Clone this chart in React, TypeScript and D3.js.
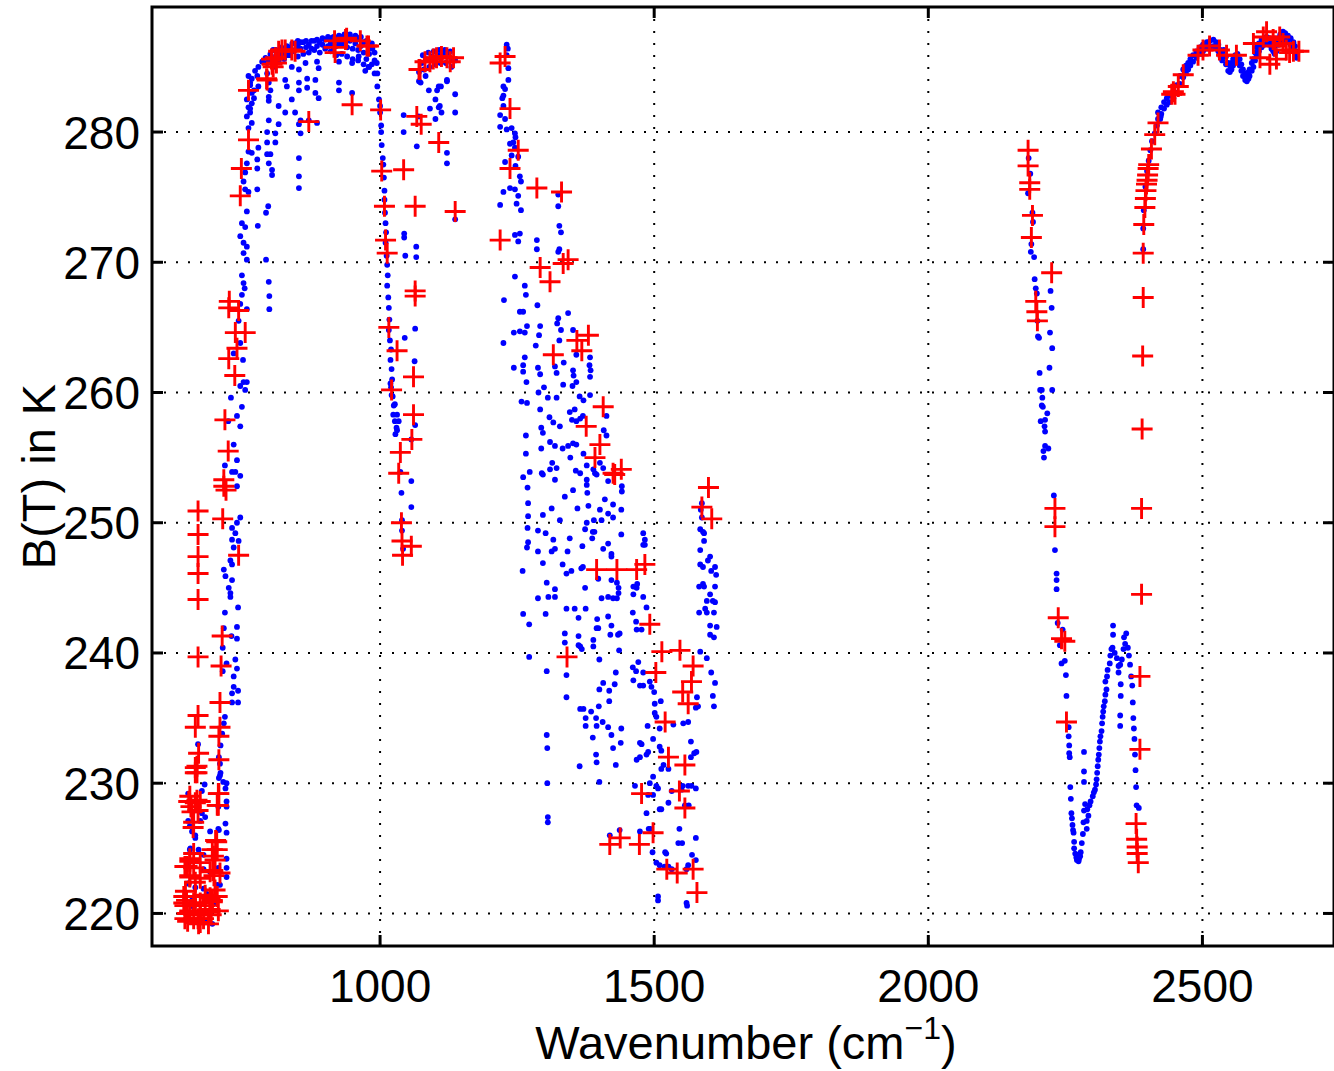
import React, { useEffect, useRef } from "react";
import * as d3 from "d3";

type Pt = [number, number];

// blue dots: all channels, [wavenumber cm-1, brightness temperature K]
const dotsCO2: Pt[] = [
  [745,253.6],[736,253.9],[739,252.8],[745,250.4],[739,250.0],[730,249.6],[736,249.2],[730,248.7],[742,248.6],[733,248.1],
  [727,247.1],[730,246.8],[715,246.4],[718,245.9],[730,245.6],[724,245.0],[727,244.6],[727,244.3],[741,243.5],[717,243.1],
  [739,242.0],[715,241.9],[729,241.3],[739,241.1],[713,240.4],[736,239.5],[720,239.2],[739,238.8],[733,238.2],[713,238.6],
  [733,237.4],[741,237.1],[730,236.9],[741,236.2],[730,236.2],[717,235.1],[715,234.6],[712,233.8],[709,232.9],[706,232.0],
  [668,233.0],[709,230.8],[706,230.4],[720,230.0],[718,229.6],[680,229.9],[675,229.4],[720,228.6],[720,228.2],[675,227.7],
  [672,227.1],[718,226.9],[720,226.2],[663,226.0],[690,226.3],[706,226.4],[663,225.8],[654,225.0],[669,224.9],[678,224.5],
  [720,224.2],[651,223.9],[720,223.5],[678,223.4],[720,222.8],[651,222.3],[678,221.9],[657,221.0],[690,220.0],[675,219.5],
  [694,219.2],[708,231.5],[708,230.6],[714,230.1],[650,229.2],[705,228.2],[650,227.1],[681,227.4],[653,226.7],[657,226.3],
  [705,226.5],[653,224.9],[705,223.5],[690,223.2],[650,222.3],[663,222.0],[703,222.2],[708,222.2],[681,219.4],[666,224.0],
  [684,221.5],[660,220.5],[699,220.8],
  [745,263.8],[733,263.0],[751,260.8],[757,260.8],[754,260.2],[745,260.5],[728,259.6],[748,258.9],[739,258.2],[745,257.4],
  [723,257.8],[733,256.0],[739,254.8],[717,254.4],[730,253.9],[742,265.5],[745,266.8],[748,269.0],[750,262.5],
  [760,280.3],[766,280.7],[763,281.5],[757,281.2],[766,282.2],[763,281.8],[770,282.6],[766,283.0],[763,283.6],[766,284.1],
  [772,284.7],[778,285.0],[785,285.4],[791,285.7],[794,285.3],[797,285.6],[776,284.3],[778,283.5],[770,283.2],[794,284.5],
  [797,283.8],[800,283.2],[797,282.7],[797,282.4],[760,284.3],[763,283.8],[757,282.5],[760,281.9],
  [797,280.9],[794,280.0],[794,279.2],[800,278.3],[794,278.3],[797,277.6],[778,278.8],[776,277.9],[766,278.4],[760,278.5],
  [757,277.6],[754,276.9],[751,276.2],[754,275.6],[760,275.4],[776,275.6],[776,277.2],[757,273.9],[748,273.0],[754,272.7],
  [745,272.0],[751,271.5],[757,271.2],[751,270.7],[757,270.2],[777,272.8],[796,274.3],[792,273.8],[792,270.2],[797,268.5],
  [798,267.4],[798,266.4],[751,268.4],[753,268.0],[748,267.5],[757,266.4],
];

const dotsWindow: Pt[] = [
  [815,282.0],[827,281.5],[839,282.5],[845,281.5],[827,284.0],[830,283.5],[852,283.8],[852,283.2],[867,284.1],[867,283.4],
  [882,284.0],[888,284.9],[882,283.0],[888,282.6],[864,285.3],[852,284.8],[839,285.0],[885,285.4],[925,283.8],[925,283.2],
  [949,283.0],[925,285.4],[949,285.3],[961,285.8],[973,284.7],[979,285.0],[870,280.9],[885,280.7],[855,280.9],[855,279.9],
  [852,280.6],[815,280.6],[809,279.9],[809,279.2],[803,277.1],[803,276.7],[852,278.0],[852,276.6],[852,275.7],
  [800,285.5],[800,286.0],[810,285.8],[810,286.3],[820,286.0],[820,286.5],[830,285.9],[830,286.6],[840,286.2],[840,286.8],
  [850,285.8],[850,286.6],[850,287.0],[860,286.0],[860,286.9],[870,286.1],[870,286.7],[880,286.3],[880,287.0],[890,286.1],
  [890,286.9],[900,286.4],[900,287.1],[910,286.2],[910,286.8],[910,287.2],[920,285.9],[920,286.6],[920,287.2],[930,286.0],
  [930,286.7],[930,287.3],[940,285.8],[940,286.5],[940,287.3],[950,285.6],[950,286.4],[950,287.2],[960,285.5],[960,286.3],
  [960,287.2],[970,285.2],[970,286.1],[970,286.9],[980,285.0],[980,286.0],[980,286.7],[990,284.5],[990,285.5],[986,286.4],
  [995,283.5],[995,284.5],[998,282.5],[1000,281.5],[1000,282.0],[1002,280.5],[1002,280.0],
  [805,285.0],[815,285.4],[825,285.6],[835,285.9],[845,286.3],[855,286.4],[865,286.5],[875,286.4],[885,286.6],[895,286.7],
  [905,286.6],[915,286.5],[925,286.9],[935,287.0],[945,287.0],[955,286.8],[965,286.6],[975,285.6],[985,285.2],
  [805,286.3],[815,286.0],[825,286.2],[835,286.5],[845,286.8],[855,286.9],[865,287.0],[875,287.0],[885,287.1],[895,287.2],
  [905,287.3],[915,287.3],[925,287.4],[935,287.5],[945,287.5],[955,287.4],[965,287.3],[975,287.0],[985,286.8],[990,286.1],
  [994,285.3],
];

const dotsOzone: Pt[] = [
  [1003,279.0],[1005,278.0],[1006,277.5],[1007,276.5],[1008,275.5],[1008,274.8],[1009,273.8],[1010,273.0],[1011,272.3],[1010,271.5],
  [1012,270.5],[1013,269.8],[1014,269.0],[1013,268.2],[1015,267.3],[1016,266.5],[1017,265.6],[1016,264.8],[1018,264.0],[1020,263.3],
  [1019,262.5],[1021,261.8],[1022,261.0],[1020,260.4],[1023,259.7],[1025,259.0],[1024,258.3],[1027,257.8],[1030,257.3],[1028,256.8],
  [1019,260.7],[1021,259.8],[1027,259.1],[1031,258.3],[1034,257.8],[1031,257.1],
  [1044,272.2],[1044,271.9],[1046,270.5],[1066,271.2],[1066,270.4],[1067,278.9],[1070,281.2],[1043,281.3],[1043,280.0],[1064,264.9],
  [1045,264.2],[1063,262.4],[1064,257.5],[1057,256.4],[1037,253.9],[1057,253.2],[1039,252.3],[1057,251.2],[1040,250.2],[1040,249.4],
  [1042,248.0],
  [1122,283.9],[1111,283.5],[1109,282.0],[1112,281.5],[1137,282.9],[1137,281.5],[1122,278.4],[1122,277.6],[1074,283.8],[1083,284.3],
  [1089,283.2],[1104,283.2],[1107,283.5],[1101,282.5],[1091,281.8],[1107,281.9],[1101,281.0],[1122,284.0],[1071,283.9],[1071,284.6],
  [1076,285.3],[1085,285.6],[1095,285.8],[1105,285.9],[1115,286.0],[1125,285.9],[1130,285.6],[1080,284.8],[1090,285.0],[1100,285.2],
  [1110,285.3],[1120,285.3],[1130,285.0],[1137,285.5],[1137,273.3],
  [1078,285.9],[1088,286.1],[1098,286.2],[1108,286.3],[1118,286.3],[1128,286.2],
];

const dotsWater: Pt[] = [
  [1231,286.7],[1233,286.4],[1231,285.9],[1234,284.9],[1234,284.0],[1225,283.5],[1228,283.3],[1225,282.8],[1223,282.6],[1225,282.0],
  [1219,281.3],[1228,281.0],[1219,280.4],[1231,280.2],[1240,280.3],[1246,279.9],[1247,279.6],[1243,279.2],[1237,279.1],[1246,278.8],
  [1240,278.2],[1252,278.1],[1228,277.7],[1247,277.4],[1255,276.6],[1257,276.2],[1237,275.7],[1246,275.6],[1225,275.4],[1252,275.1],
  [1219,274.4],[1249,274.5],[1257,274.0],[1246,272.1],[1255,272.2],[1252,271.6],[1286,271.7],[1286,271.0],[1325,270.8],[1327,271.0],
  [1330,272.3],[1327,272.8],[1325,274.3],[1325,275.2],
  [1246,268.9],[1264,268.2],[1266,267.5],[1226,267.1],[1287,266.7],[1255,266.2],[1261,266.2],[1343,266.1],[1325,265.7],[1323,265.3],
  [1268,265.1],[1292,265.1],[1330,264.8],[1244,264.6],[1255,264.7],[1264,264.6],[1290,264.4],[1225,263.8],[1284,263.6],[1327,264.0],
  [1352,264.8],[1358,262.9],[1383,262.7],[1382,262.1],[1384,261.7],[1383,261.2],[1264,262.7],[1261,262.1],[1244,261.9],[1261,261.6],
  [1267,260.8],[1288,261.9],[1292,261.4],[1319,262.0],[1322,261.5],[1335,262.3],[1352,261.7],[1353,261.3],[1358,260.8],[1299,260.4],
  [1289,260.0],[1306,259.6],[1322,259.6],[1334,260.6],[1351,260.5],[1364,259.7],[1371,259.4],[1383,259.8],[1258,259.3],[1268,259.2],
  [1292,258.7],[1309,258.1],[1316,257.7],[1328,257.4],[1346,258.5],[1355,258.7],[1350,257.9],[1358,257.8],[1365,258.0],[1370,258.2],
  [1294,257.3],[1297,256.9],[1266,256.7],[1294,255.7],[1310,256.2],[1319,255.9],[1333,255.7],[1343,255.9],[1352,256.1],[1358,256.0],
  [1347,255.0],[1371,255.3],[1413,256.7],[1408,257.1],[1413,258.2],[1266,255.3],[1314,254.6],[1322,254.2],[1310,254.1],[1295,253.8],
  [1273,253.9],[1261,253.5],[1357,254.0],[1365,253.8],[1377,254.4],[1389,254.1],[1401,254.6],[1407,254.2],[1377,253.3],[1395,253.7],
  [1269,252.7],[1297,253.7],[1319,253.3],[1392,253.8],[1416,253.2],[1441,252.8],[1441,252.4],[1337,252.0],[1352,252.5],[1377,252.9],
  [1378,252.3],[1410,251.8],[1270,251.5],[1313,251.1],[1360,251.1],[1380,251.3],[1401,251.0],[1425,251.4],[1440,251.0],[1270,250.5],
  [1297,250.6],[1328,250.2],[1377,250.0],[1390,250.2],[1404,250.2],[1416,250.7],[1425,250.4],[1269,249.6],[1288,249.4],[1302,249.2],
  [1374,249.5],[1388,249.3],[1391,249.3],[1440,249.1],[1480,249.2],[1483,248.7],[1316,248.7],[1346,248.8],[1387,248.8],[1480,248.3],
  [1270,248.5],[1268,248.1],[1319,248.0],[1313,247.8],[1342,247.8],[1369,248.2],[1407,248.0],[1416,248.4],[1422,247.6],[1422,247.4],
  [1288,247.8],[1297,246.9],[1260,246.3],[1333,246.8],[1340,246.1],[1349,246.3],[1367,246.5],[1370,246.6],[1398,245.7],[1422,245.6],
  [1432,245.4],[1435,245.0],[1435,244.6],[1432,244.2],[1425,244.2],[1416,244.3],[1304,245.4],[1319,244.9],[1319,244.3],[1307,244.3],
  [1288,244.2],[1340,243.4],[1355,243.4],[1375,243.4],[1374,245.0],[1404,244.2],[1261,243.0],[1272,242.2],[1302,243.0],[1362,242.7],
  [1396,242.6],[1416,242.8],[1395,241.9],[1398,241.9],[1422,242.1],[1437,241.5],[1434,241.4],[1420,241.4],[1337,241.5],[1337,240.8],
  [1362,241.3],[1362,240.6],[1365,240.5],[1368,240.3],[1389,241.0],[1389,240.5],[1436,240.2],[1400,239.5],[1272,239.7],[1304,238.6],
  [1340,238.3],[1340,236.6],[1430,238.5],[1428,237.6],[1407,237.7],[1400,237.2],[1418,237.1],[1418,236.3],[1399,235.9],[1365,235.7],
  [1371,235.7],[1385,235.5],[1394,235.0],[1375,235.0],[1375,234.4],[1395,234.4],[1406,234.7],[1416,234.3],[1422,233.7],[1440,234.2],
  [1388,233.5],[1425,232.7],[1439,233.1],[1394,232.2],[1395,231.6],[1430,231.4],[1364,231.3],[1400,230.1],[1304,233.7],[1305,232.7],
  [1305,230.0],[1306,227.4],[1306,227.0],
  [1483,248.3],[1462,245.1],[1462,244.5],[1468,245.0],[1469,245.3],[1480,244.3],[1461,243.1],[1467,242.4],[1468,241.8],[1477,241.8],
  [1486,243.5],[1461,238.9],[1471,239.3],[1467,238.6],[1480,238.5],[1462,237.9],[1474,237.5],[1480,237.5],[1492,237.8],[1495,237.4],
  [1500,237.0],[1512,236.3],[1501,236.1],[1501,235.4],[1504,235.1],[1510,234.2],[1488,234.4],[1498,233.4],[1474,233.1],[1477,233.0],
  [1468,231.8],[1474,232.0],[1486,232.2],[1489,232.4],[1510,232.8],[1513,232.5],[1517,231.4],[1513,231.1],[1526,231.1],[1498,230.5],
  [1492,230.0],[1507,229.6],[1504,229.8],[1465,229.8],[1489,229.1],[1498,229.1],[1510,228.0],[1513,228.0],[1486,227.7],[1526,228.5],
  [1532,229.4],[1550,229.5],[1562,229.8],[1568,229.8],[1576,229.6],[1552,229.8],[1556,228.3],[1563,228.3],[1546,226.5],[1544,225.4],
  [1551,225.4],[1576,225.8],[1474,226.3],[1493,226.5],[1419,226.0],[1437,226.4],[1490,226.5],[1497,224.7],[1520,224.7],[1522,224.6],
  [1504,223.9],[1510,223.7],[1519,223.6],[1526,223.6],[1532,223.4],[1562,223.7],[1569,224.5],[1576,224.1],[1559,223.4],[1507,221.3],
  [1507,221.0],[1559,220.8],[1560,220.6],
  [1587,251.5],[1585,251.0],[1587,250.4],[1584,249.5],[1589,249.3],[1591,249.2],[1591,248.6],[1584,247.9],[1602,247.4],[1584,246.8],
  [1589,246.6],[1598,247.1],[1611,246.6],[1604,246.3],[1613,246.0],[1582,245.1],[1589,245.3],[1591,245.1],[1611,245.1],[1602,244.5],
  [1596,244.0],[1593,243.4],[1607,244.0],[1611,243.9],[1582,243.1],[1596,243.1],[1609,243.1],[1602,242.1],[1614,242.0],[1602,241.4],
  [1609,241.2],[1584,240.1],[1596,239.6],[1604,238.5],[1611,237.7],[1607,236.7],[1609,235.9],[1578,236.6],[1580,235.9],[1562,234.7],
  [1576,235.8],[1573,232.3],[1567,232.0],[1577,232.4],[1567,233.2],[1553,234.6],[1535,234.5],
];

const dotsShortwave: Pt[] = [
  [2183,278.0],[2186,276.8],[2182,275.3],[2190,273.8],[2191,273.1],[2188,271.4],[2187,270.8],[2193,270.4],[2194,268.7],[2196,268.0],
  [2198,267.6],[2199,265.5],[2202,264.2],[2200,264.3],[2203,261.5],[2204,260.2],[2207,260.2],[2208,259.6],[2207,259.0],[2209,258.9],
  [2205,257.8],[2213,257.9],[2212,257.4],[2213,257.0],[2217,258.4],[2213,255.9],[2219,255.7],[2210,255.5],[2211,255.0],[2223,267.8],
  [2225,266.5],[2222,264.6],[2226,263.4],[2221,261.9],[2226,260.2],
  [2229,252.1],[2231,247.9],[2234,246.1],[2234,245.6],[2234,244.9],[2236,242.3],[2245,241.8],[2240,240.6],[2243,239.2],[2249,239.4],
  [2251,238.3],[2252,236.7],[2256,234.3],[2256,233.6],[2257,232.9],[2257,232.3],[2258,232.0],[2259,229.7],[2260,228.8],[2261,227.7],
  [2262,227.3],[2263,226.8],[2264,226.4],[2265,226.2],[2266,225.5],[2266,225.0],[2268,224.6],[2270,224.3],[2274,224.0],[2277,224.4],
  [2278,224.7],[2280,225.4],[2282,226.1],[2283,227.0],[2284,227.9],[2286,228.4],[2284,232.4],[2284,230.9],[2284,230.1],[2271,224.1],
  [2272,224.5],[2275,224.2],
  [2289,227.1],[2292,227.5],[2289,226.5],[2290,228.0],[2294,228.3],[2296,228.6],[2300,229.0],[2302,229.3],[2304,229.5],[2306,229.9],
  [2307,230.3],[2308,230.8],[2309,231.3],[2310,231.8],[2311,232.2],[2312,232.7],[2313,233.2],[2314,233.6],[2316,234.0],[2317,234.6],
  [2318,235.1],[2319,235.5],[2320,235.9],[2322,236.3],[2323,236.8],[2325,237.2],[2323,237.8],[2326,238.2],[2327,238.7],[2331,239.2],
  [2332,239.8],[2334,240.3],[2336,240.4],[2337,241.4],[2337,242.1],[2340,240.0],[2344,239.6],[2347,239.0],[2350,239.1],[2353,239.5],
  [2356,240.3],[2359,240.7],[2361,241.5],[2357,241.2],[2364,240.4],[2366,239.8],[2368,239.1],[2370,238.2],[2372,237.5],[2373,236.2],
  [2374,235.0],[2375,234.2],[2376,233.4],[2377,232.2],[2378,231.0],[2379,229.7],[2380,228.3],[2384,228.1],[2347,238.5],[2351,237.6],
  [2351,236.7],[2350,235.2],[2350,234.4],
  [2392,271.0],[2392,272.6],[2393,274.0],[2396,275.8],[2399,277.0],[2402,277.8],[2405,278.6],[2408,279.3],[2413,279.9],[2417,280.5],
  [2423,281.0],[2424,281.2],
  [2419,281.0],[2419,281.5],[2425,281.4],[2425,281.9],[2430,281.8],[2430,282.3],[2435,282.1],[2435,282.6],[2440,282.3],[2440,282.8],
  [2447,282.6],[2447,283.1],[2453,283.0],[2453,283.6],[2459,283.7],[2459,284.3],[2465,284.2],[2465,284.8],[2470,284.5],[2470,285.1],
  [2474,284.8],[2474,285.3],[2478,285.1],[2478,285.6],[2483,285.4],[2483,285.9],[2489,285.7],[2489,286.2],[2495,286.0],[2495,286.5],
  [2501,286.2],[2501,286.7],[2508,286.4],[2508,286.9],[2514,286.5],[2514,287.0],[2520,286.6],[2520,287.1],[2525,286.5],[2525,286.9],
  [2529,286.2],[2529,286.7],[2533,285.8],[2533,286.3],[2536,285.5],[2536,286.1],[2539,285.8],[2539,286.3],[2543,285.2],[2543,285.8],
  [2547,284.7],[2547,285.3],[2550,284.6],[2550,285.1],[2553,284.8],[2553,285.3],[2556,285.1],[2556,285.6],[2560,285.4],[2560,285.9],
  [2564,285.5],[2564,286.0],[2568,285.1],[2568,285.6],[2571,284.7],[2571,285.2],[2574,284.3],[2574,284.8],[2578,284.0],[2578,284.5],
  [2581,283.9],[2581,284.4],[2584,284.1],[2584,284.6],[2586,284.3],[2586,284.8],[2590,284.7],[2590,285.3],[2593,285.0],[2593,285.6],
  [2596,285.5],[2596,286.1],[2599,285.9],[2599,286.5],[2603,286.2],[2603,286.8],[2608,286.5],[2608,287.1],[2612,286.7],[2612,287.2],
  [2617,286.8],[2617,287.3],[2622,286.7],[2622,287.2],[2626,286.4],[2626,286.9],[2629,286.2],[2629,286.7],[2632,286.0],[2632,286.6],
  [2635,286.2],[2635,286.8],[2638,286.7],[2638,287.2],[2642,287.0],[2642,287.5],[2647,287.2],[2647,287.7],[2651,287.1],[2651,287.6],
  [2656,286.9],[2656,287.4],[2661,286.7],[2661,287.2],[2666,286.4],[2666,286.9],[2669,286.0],[2669,286.6],[2672,285.7],[2672,286.2],
];

// red pluses: selected channels
const plusCO2: Pt[] = [
  [715,252.8],[719,252.5],[668,250.9],[668,249.1],[668,247.4],[668,246.1],[668,244.1],[713,250.3],[742,247.5],[668,239.7],
  [712,241.3],[710,239.0],[708,236.2],[668,235.2],[663,234.3],[708,234.3],[706,233.6],[669,232.3],[663,231.2],[663,230.8],
  [706,231.8],[706,229.2],[703,228.3],[651,228.6],[663,228.5],[657,227.8],[659,226.6],[700,225.6],[703,224.9],[699,224.1],
  [695,223.3],[697,222.9],[653,224.2],[644,223.6],[653,222.9],[663,222.4],[642,221.3],[644,220.6],[663,220.6],[681,220.6],
  [653,220.1],[672,219.9],[690,220.1],[644,219.6],[672,219.3],[694,221.0],[699,221.8],[681,221.4],[649,219.4],[668,219.6],
  [666,231.3],[666,230.8],[705,229.2],[705,228.3],[653,229.0],[666,228.7],[672,228.6],[655,228.2],[668,227.9],[660,227.0],
  [702,225.5],[694,224.9],[696,224.4],[660,224.6],[653,224.0],[672,223.9],[660,223.5],[690,223.2],[708,223.1],[653,222.8],
  [672,222.7],[663,221.3],[690,221.2],[703,221.3],[647,221.0],[660,220.8],[672,220.8],[694,220.9],[653,220.2],[672,220.1],
  [690,220.3],[705,220.2],[660,219.6],[678,219.6],[669,219.2],[692,219.9],[687,219.2],[648,223.6],[645,221.7],[642,220.8],
  [648,220.0],
  [725,267.0],[724,266.5],[742,266.3],[736,264.6],[754,264.6],[739,263.4],[724,262.6],[735,261.3],[717,257.9],[723,255.5],
  [715,253.3],[760,279.4],[747,277.2],[745,275.1],[760,283.2],[794,284.0],[803,285.2],[809,285.7],[815,286.2],[839,286.3],
  [827,286.3],[793,284.1],[805,285.0],[802,285.6],[811,285.3],[821,286.3],[845,286.2],
];

const plusWindow: Pt[] = [
  [870,280.8],[916,286.5],[937,287.1],[964,287.0],[979,286.6],[918,286.1],[949,282.1],[917,287.0],[939,287.2],[976,286.6],
];

const plusOzone: Pt[] = [
  [1001,281.7],[1003,277.0],[1043,277.1],[1008,274.3],[1064,274.3],[1010,271.7],[1013,270.7],[1064,267.8],[1064,267.4],[1016,265.0],
  [1031,263.2],[1061,261.2],[1021,260.2],[1061,258.3],[1058,256.4],[1037,255.4],[1034,253.8],[1071,284.8],[1067,281.2],[1075,280.6],
  [1107,279.2],[1137,273.9],[1039,250.0],[1040,248.6],[1057,248.2],[1041,247.5],[1122,285.7],[1073,284.8],[1082,285.4],[1091,285.4],
  [1097,285.6],[1103,285.7],[1112,285.8],[1128,285.4],[1134,285.7],
];

const plusWater: Pt[] = [
  [1219,285.3],[1228,285.8],[1237,281.8],[1252,278.6],[1237,277.2],[1286,275.7],[1331,275.4],[1219,271.7],[1292,269.6],[1334,269.9],
  [1343,270.2],[1310,268.5],[1359,264.0],[1380,264.4],[1368,263.2],[1316,262.9],[1407,258.9],[1376,257.4],[1401,256.0],[1392,255.0],
  [1425,253.8],[1440,254.1],[1428,253.7],[1599,252.7],[1587,251.2],[1605,250.3],[1395,246.4],[1432,246.4],[1468,246.4],[1483,246.8],
  [1492,242.2],[1341,239.7],[1514,240.1],[1547,240.2],[1571,239.0],[1503,238.5],[1568,237.8],[1552,237.0],[1562,236.1],[1520,234.7],
  [1526,232.0],[1556,231.4],[1546,229.4],[1477,229.2],[1556,228.1],[1498,226.2],[1438,225.8],[1419,225.3],[1473,225.3],[1523,223.4],
  [1542,223.1],[1571,223.4],[1578,221.6],
];

const plusShortwave: Pt[] = [
  [2182,278.6],[2182,277.4],[2185,276.1],[2185,275.6],[2190,273.6],[2188,271.9],[2225,269.2],[2196,267.0],[2198,266.2],[2199,265.5],
  [2392,270.7],[2392,267.3],[2391,262.8],[2390,257.2],[2393,272.9],[2395,274.2],[2396,274.9],[2397,275.5],[2398,276.0],[2399,276.3],
  [2400,276.7],[2401,277.2],[2402,277.5],[2407,278.7],[2413,279.8],[2419,280.7],[2450,282.9],[2444,282.9],[2447,283.1],[2456,283.5],
  [2465,284.4],[2492,285.9],[2501,286.3],[2513,286.6],[2531,286.3],[2544,285.9],[2562,285.9],[2593,286.8],[2611,287.3],[2617,287.7],
  [2605,285.7],[2623,285.2],[2635,285.6],[2647,286.8],[2653,286.3],[2659,286.1],[2666,286.2],[2629,287.1],[2641,287.3],[2632,286.6],
  [2676,286.2],
  [2231,251.1],[2231,249.7],[2389,251.1],[2389,244.5],[2237,242.7],[2243,241.1],[2249,240.9],[2386,238.2],[2252,234.7],[2386,232.6],
  [2379,226.9],[2380,225.7],[2381,225.1],[2381,224.6],[2383,223.9],
];

const xTicks = [1000, 1500, 2000, 2500];
const yTicks = [220, 230, 240, 250, 260, 270, 280];
const xDomain: Pt = [584, 2740];
const yDomain: Pt = [217.5, 289.6];

const FONT = "'Liberation Sans', Arial, Helvetica, sans-serif";

const App = () => {
  const svgRef = useRef<SVGSVGElement>(null);

  useEffect(() => {
    const width = 1334;
    const height = 1071;
    const margin = { top: 7, right: 0, bottom: 125, left: 152 };
    const left = margin.left;
    const right = width - margin.right;
    const top = margin.top;
    const bottom = height - margin.bottom;

    const svg = d3.select(svgRef.current);
    svg.selectAll("*").remove();

    const x = d3.scaleLinear().domain(xDomain).range([left, right]);
    const y = d3.scaleLinear().domain(yDomain).range([bottom, top]);

    // dotted grid
    const grid = svg.append("g").attr("stroke", "#000").attr("stroke-width", 2).attr("stroke-dasharray", "2 10");
    grid
      .selectAll(".vgrid")
      .data(xTicks)
      .enter()
      .append("line")
      .attr("x1", (d) => x(d))
      .attr("x2", (d) => x(d))
      .attr("y1", top)
      .attr("y2", bottom);
    grid
      .selectAll(".hgrid")
      .data(yTicks)
      .enter()
      .append("line")
      .attr("x1", left)
      .attr("x2", right)
      .attr("y1", (d) => y(d))
      .attr("y2", (d) => y(d));

    const allDots = [...dotsCO2, ...dotsWindow, ...dotsOzone, ...dotsWater, ...dotsShortwave];
    svg
      .append("g")
      .selectAll("circle")
      .data(allDots)
      .enter()
      .append("circle")
      .attr("cx", (d) => x(d[0]))
      .attr("cy", (d) => y(d[1]))
      .attr("r", 2.9)
      .attr("fill", "#0000ff");

    const allPlus = [...plusCO2, ...plusWindow, ...plusOzone, ...plusWater, ...plusShortwave];
    svg
      .append("g")
      .selectAll("path")
      .data(allPlus)
      .enter()
      .append("path")
      .attr("d", (d) => {
        const cx = x(d[0]);
        const cy = y(d[1]);
        return `M${cx - 10.5},${cy}H${cx + 10.5}M${cx},${cy - 10.5}V${cy + 10.5}`;
      })
      .attr("stroke", "#ff0000")
      .attr("stroke-width", 2.9)
      .attr("fill", "none");

    // axes box and inward ticks
    const ax = svg.append("g").attr("stroke", "#000").attr("stroke-width", 3).attr("fill", "none");
    ax.append("rect")
      .attr("x", left)
      .attr("y", top)
      .attr("width", right - left)
      .attr("height", bottom - top);
    const tl = 11;
    xTicks.forEach((t) => {
      ax.append("line").attr("x1", x(t)).attr("x2", x(t)).attr("y1", bottom).attr("y2", bottom - tl);
      ax.append("line").attr("x1", x(t)).attr("x2", x(t)).attr("y1", top).attr("y2", top + tl);
    });
    yTicks.forEach((t) => {
      ax.append("line").attr("x1", left).attr("x2", left + tl).attr("y1", y(t)).attr("y2", y(t));
      ax.append("line").attr("x1", right).attr("x2", right - tl).attr("y1", y(t)).attr("y2", y(t));
    });

    svg
      .append("g")
      .selectAll("text")
      .data(xTicks)
      .enter()
      .append("text")
      .attr("x", (d) => x(d))
      .attr("y", 1002)
      .attr("text-anchor", "middle")
      .style("font-family", FONT)
      .style("font-size", "46px")
      .text((d) => d);

    svg
      .append("g")
      .selectAll("text")
      .data(yTicks)
      .enter()
      .append("text")
      .attr("x", 140)
      .attr("y", (d) => y(d) + 16.5)
      .attr("text-anchor", "end")
      .style("font-family", FONT)
      .style("font-size", "46px")
      .text((d) => d);

    const xl = svg
      .append("text")
      .attr("x", (left + right) / 2 + 3)
      .attr("y", 1059)
      .attr("text-anchor", "middle")
      .style("font-family", FONT)
      .style("font-size", "47px");
    xl.append("tspan").text("Wavenumber (cm");
    xl.append("tspan").attr("dy", -20).style("font-size", "32px").text("\u22121");
    xl.append("tspan").attr("dy", 20).text(")");

    svg
      .append("text")
      .attr("transform", `translate(55, ${(top + bottom) / 2}) rotate(-90)`)
      .attr("text-anchor", "middle")
      .style("font-family", FONT)
      .style("font-size", "47px")
      .text("B(T) in K");
  }, []);

  return (
    <svg
      ref={svgRef}
      width={1334}
      height={1071}
      style={{ position: "absolute", left: 0, top: 0, background: "#fff" }}
    ></svg>
  );
};

export default App;
